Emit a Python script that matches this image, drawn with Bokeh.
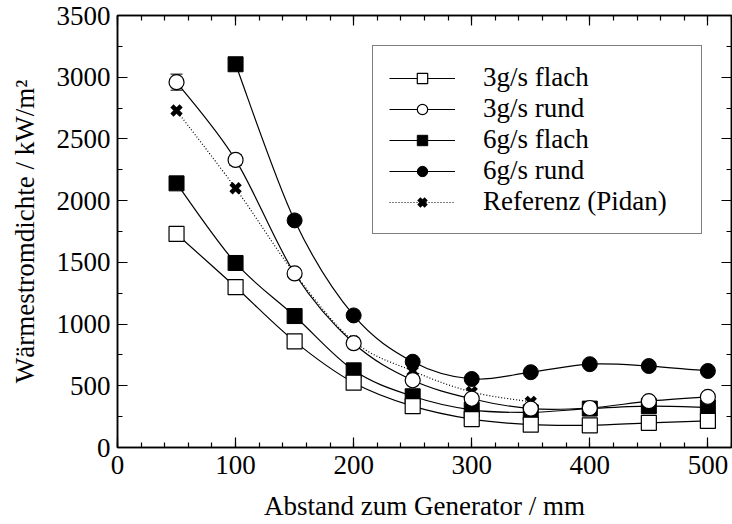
from bokeh.plotting import figure
from bokeh.models import (ColumnDataSource, Legend, LegendItem, LinearAxis,
                          SingleIntervalTicker, Whisker, TeeHead, Range1d,
                          CustomJSTickFormatter)
from bokeh.embed import file_html
from bokeh.resources import INLINE

# ---------------- data ----------------
dist = [50, 100, 150, 200, 250, 300, 350, 400, 450, 500]
flach3 = [1730, 1300, 860, 525, 335, 230, 185, 180, 200, 215]
rund3 = [2960, 2330, 1410, 845, 545, 395, 315, 320, 375, 410]
flach6 = [2140, 1495, 1065, 625, 415, 305, 285, 315, 335, 325]
dist_rund6 = [100, 150, 200, 250, 300, 350, 400, 450, 500]
rund6 = [3105, 1840, 1070, 695, 555, 610, 675, 660, 620]
rund6_markers = ["square", "circle", "circle", "circle", "circle",
                 "circle", "circle", "circle", "circle"]
dist_ref = [50, 100, 150, 200, 250, 300, 350]
ref = [2730, 2100, 1410, 860, 620, 450, 370]

rund3_err_x = [50, 100]
rund3_err = [65, 45]
flach6_err_x = [50]
flach6_err = [48]

labels = ["3g/s flach", "3g/s rund", "6g/s flach", "6g/s rund", "Referenz (Pidan)"]

FONT = "'Liberation Serif', 'Times New Roman', serif"
FS = "27px"


def smooth_source(xs, ys):
    """Catmull-Rom -> cubic Bezier segments through the data points."""
    n = len(xs)
    d = dict(x0=[], y0=[], x1=[], y1=[], cx0=[], cy0=[], cx1=[], cy1=[])
    for i in range(n - 1):
        xa, ya = (xs[i - 1], ys[i - 1]) if i > 0 else (xs[i], ys[i])
        xd, yd = (xs[i + 2], ys[i + 2]) if i + 2 < n else (xs[i + 1], ys[i + 1])
        d["x0"].append(xs[i]); d["y0"].append(ys[i])
        d["x1"].append(xs[i + 1]); d["y1"].append(ys[i + 1])
        d["cx0"].append(xs[i] + (xs[i + 1] - xa) / 6.0)
        d["cy0"].append(ys[i] + (ys[i + 1] - ya) / 6.0)
        d["cx1"].append(xs[i + 1] - (xd - xs[i]) / 6.0)
        d["cy1"].append(ys[i + 1] - (yd - ys[i]) / 6.0)
    return ColumnDataSource(d)


p = figure(width=732, height=524, output_backend="svg", toolbar_location=None,
           x_range=Range1d(0, 520), y_range=Range1d(0, 3500),
           min_border_left=117, min_border_right=1, min_border_top=15,
           min_border_bottom=77)
p.grid.visible = False
p.outline_line_color = "black"
p.outline_line_width = 1.5

def style_axis(ax, ticker, show_labels=True):
    ax.ticker = ticker
    ax.level = "overlay"
    ax.axis_line_color = "black"
    ax.axis_line_width = 1.5
    ax.major_tick_in = 10
    ax.major_tick_out = 0
    ax.minor_tick_in = 5
    ax.minor_tick_out = 0
    ax.major_tick_line_color = "black"
    ax.minor_tick_line_color = "black"
    ax.major_tick_line_width = 1.2
    ax.minor_tick_line_width = 1.2
    ax.major_label_text_font = FONT
    ax.major_label_text_color = "black"
    ax.axis_label_text_font = FONT
    ax.axis_label_text_font_style = "normal"
    ax.axis_label_text_color = "black"
    if not show_labels:
        ax.formatter = CustomJSTickFormatter(code="return ''")
        ax.major_label_standoff = 0
    else:
        ax.major_label_text_font_size = FS
        ax.axis_label_text_font_size = FS

xt = lambda: SingleIntervalTicker(interval=100, num_minor_ticks=5)
yt = lambda: SingleIntervalTicker(interval=500, num_minor_ticks=2)

style_axis(p.xaxis[0], xt())
style_axis(p.yaxis[0], yt())
p.xaxis[0].axis_label = "Abstand zum Generator / mm"
p.yaxis[0].axis_label = "Wärmestromdichte / kW/m²"
p.xaxis[0].major_label_standoff = 8
p.xaxis[0].axis_label_standoff = 14
p.yaxis[0].major_label_standoff = 7
p.yaxis[0].axis_label_standoff = 14

top = LinearAxis()
style_axis(top, xt(), show_labels=False)
p.add_layout(top, "above")
right = LinearAxis()
style_axis(right, yt(), show_labels=False)
p.add_layout(right, "right")

# error bars
src_e1 = ColumnDataSource(dict(x=rund3_err_x,
                               upper=[rund3[dist.index(x)] + e for x, e in zip(rund3_err_x, rund3_err)],
                               lower=[rund3[dist.index(x)] - e for x, e in zip(rund3_err_x, rund3_err)]))
src_e2 = ColumnDataSource(dict(x=flach6_err_x,
                               upper=[flach6[dist.index(x)] + e for x, e in zip(flach6_err_x, flach6_err)],
                               lower=[flach6[dist.index(x)] - e for x, e in zip(flach6_err_x, flach6_err)]))
for s in (src_e1, src_e2):
    w = Whisker(source=s, base="x", upper="upper", lower="lower",
                line_color="black", line_width=1,
                upper_head=TeeHead(size=12, line_color="black", line_width=1),
                lower_head=TeeHead(size=12, line_color="black", line_width=1),
                level="underlay")
    p.add_layout(w)

LW = 1.2
# Referenz
b_ref = p.bezier("x0", "y0", "x1", "y1", "cx0", "cy0", "cx1", "cy1",
                 source=smooth_source(dist_ref, ref), line_color="black",
                 line_width=1.2, line_dash="1 2")
m_ref = p.scatter(dist_ref, ref, marker="x", size=13, line_color="black",
                  line_width=4.5)
# 6g/s rund
b_r6 = p.bezier("x0", "y0", "x1", "y1", "cx0", "cy0", "cx1", "cy1",
                source=smooth_source(dist_rund6, rund6), line_color="black", line_width=LW)
src_r6c = ColumnDataSource(dict(
    x=[x for x, m in zip(dist_rund6, rund6_markers) if m == "circle"],
    y=[y for y, m in zip(rund6, rund6_markers) if m == "circle"]))
src_r6s = ColumnDataSource(dict(
    x=[x for x, m in zip(dist_rund6, rund6_markers) if m == "square"],
    y=[y for y, m in zip(rund6, rund6_markers) if m == "square"]))
m_r6 = p.scatter("x", "y", source=src_r6c, marker="circle", size=15,
                 fill_color="black", line_color="black", line_width=1)
m_r6s = p.scatter("x", "y", source=src_r6s, marker="square", size=15,
                  fill_color="black", line_color="black", line_width=1)
# 6g/s flach
b_f6 = p.bezier("x0", "y0", "x1", "y1", "cx0", "cy0", "cx1", "cy1",
                source=smooth_source(dist, flach6), line_color="black", line_width=LW)
m_f6 = p.scatter(dist, flach6, marker="square", size=15, fill_color="black",
                 line_color="black", line_width=1)
# 3g/s flach
b_f3 = p.bezier("x0", "y0", "x1", "y1", "cx0", "cy0", "cx1", "cy1",
                source=smooth_source(dist, flach3), line_color="black", line_width=LW)
m_f3 = p.scatter(dist, flach3, marker="square", size=15, fill_color="white",
                 line_color="black", line_width=1.2)
# 3g/s rund
b_r3 = p.bezier("x0", "y0", "x1", "y1", "cx0", "cy0", "cx1", "cy1",
                source=smooth_source(dist, rund3), line_color="black", line_width=LW)
m_r3 = p.scatter(dist, rund3, marker="circle", size=15, fill_color="white",
                 line_color="black", line_width=1.2)

items = [
    LegendItem(label=labels[0], renderers=[b_f3, m_f3]),
    LegendItem(label=labels[1], renderers=[b_r3, m_r3]),
    LegendItem(label=labels[2], renderers=[b_f6, m_f6]),
    LegendItem(label=labels[3], renderers=[b_r6, m_r6]),
    LegendItem(label=labels[4], renderers=[b_ref, m_ref]),
]
legend = Legend(items=items, location=(255, 213), orientation="vertical",
                border_line_color="black", border_line_width=1,
                background_fill_color="white", background_fill_alpha=1,
                label_text_font=FONT, label_text_font_size=FS,
                label_text_color="black",
                glyph_width=66, glyph_height=26, label_height=26,
                label_width=202, label_standoff=28, spacing=-3, padding=16,
                margin=0)
p.add_layout(legend)

open("out.html", "w").write(file_html(p, INLINE))
